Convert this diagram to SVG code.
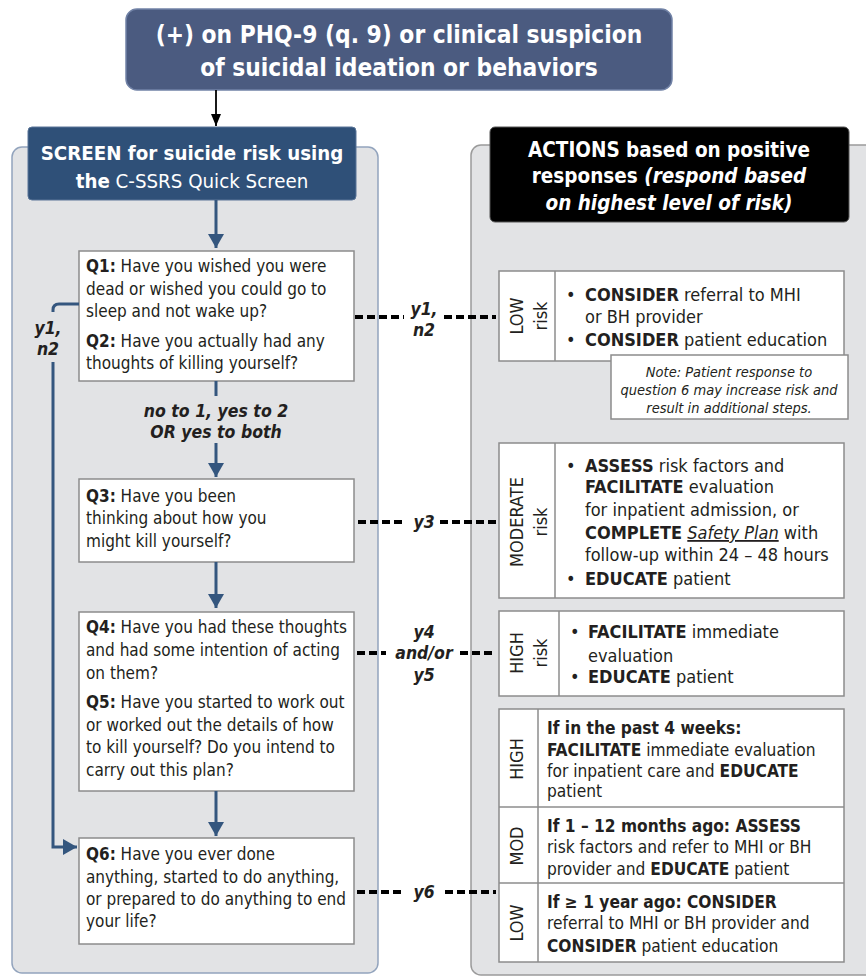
<svg xmlns="http://www.w3.org/2000/svg" width="866" height="976" viewBox="0 0 866 976">
<defs>
<style>
.t{font-family:'Liberation Sans Narrow','DejaVu Sans Condensed','Liberation Sans',sans-serif;fill:#231f20;}
.q{font-size:17px;}
.r{font-size:18px;}
.tb{font-size:17.2px;}
.b{font-weight:bold;}
.i{font-style:italic;}
.w{fill:#ffffff;}
.box{fill:#ffffff;stroke:#8c8c8c;stroke-width:1.5;}
.panelL{fill:#e2e3e5;stroke:#93a4bd;stroke-width:1.5;}
.panelR{fill:#e2e3e5;stroke:#9b9b9b;stroke-width:1.5;}
.arr{stroke:#34567e;stroke-width:3;fill:none;}
.dot{stroke:#000;stroke-width:4;stroke-dasharray:8 4;fill:none;}
.lbl{font-size:17.5px;font-weight:bold;font-style:italic;text-anchor:middle;}
.vt{font-size:18px;text-anchor:middle;}
.note{font-size:14.5px;font-style:italic;text-anchor:middle;}
</style>
<marker id="ab" viewBox="0 0 14 16" refX="14" refY="8" markerWidth="14" markerHeight="16" markerUnits="userSpaceOnUse" orient="auto"><path d="M0,0 L14,8 L0,16 z" fill="#34567e"/></marker>
<marker id="ak" viewBox="0 0 12 10" refX="12" refY="5" markerWidth="12" markerHeight="10" markerUnits="userSpaceOnUse" orient="auto"><path d="M0,0 L12,5 L0,10 z" fill="#000"/></marker>
</defs>
<rect width="866" height="976" fill="#ffffff"/>

<g id="panel-left"><rect class="panelL" x="12" y="147" width="366" height="826" rx="10"/></g>
<g id="panel-right"><rect class="panelR" x="471" y="145" width="410" height="830" rx="10"/></g>

<g id="top">
<rect x="126" y="9" width="546" height="81" rx="11" fill="#4b5b80" stroke="#7182a6" stroke-width="1.5"/>
<text class="t w b" x="399" y="43" font-size="24.3" text-anchor="middle">(+) on PHQ-9 (q. 9) or clinical suspicion</text>
<text class="t w b" x="399" y="76" font-size="24.3" text-anchor="middle">of suicidal ideation or behaviors</text>
</g>

<g id="screen-header">
<rect x="28" y="127" width="328" height="73" rx="4" fill="#2f5078" stroke="#5a7598" stroke-width="1"/>
<text class="t w b" x="192" y="160" font-size="20.3" text-anchor="middle">SCREEN for suicide risk using</text>
<text class="t w" x="192" y="188" font-size="20.3" text-anchor="middle"><tspan font-weight="bold">the</tspan> C-SSRS Quick Screen</text>
</g>

<g id="actions-header">
<rect x="490" y="127" width="359" height="95" rx="5" fill="#000000" stroke="#555" stroke-width="1"/>
<text class="t w b" x="669" y="157" font-size="20.5" text-anchor="middle">ACTIONS based on positive</text>
<text class="t w b" x="669" y="183" font-size="20.5" text-anchor="middle">responses <tspan font-style="italic">(respond based</tspan></text>
<text class="t w b i" x="669" y="210" font-size="20.5" text-anchor="middle">on highest level of risk)</text>
</g>

<g id="q1q2">
<rect class="box" x="79" y="251" width="275" height="130"/>
<text class="t q" x="86" y="272"><tspan font-weight="bold">Q1:</tspan> Have you wished you were</text>
<text class="t q" x="86" y="295">dead or wished you could go to</text>
<text class="t q" x="86" y="317">sleep and not wake up?</text>
<text class="t q" x="86" y="347"><tspan font-weight="bold">Q2:</tspan> Have you actually had any</text>
<text class="t q" x="86" y="369">thoughts of killing yourself?</text>
</g>

<g id="q3">
<rect class="box" x="79" y="479" width="275" height="83"/>
<text class="t q" x="86" y="502"><tspan font-weight="bold">Q3:</tspan> Have you been</text>
<text class="t q" x="86" y="524">thinking about how you</text>
<text class="t q" x="86" y="547">might kill yourself?</text>
</g>

<g id="q4q5">
<rect class="box" x="79" y="612" width="275" height="179"/>
<text class="t q" x="86" y="633"><tspan font-weight="bold">Q4:</tspan> Have you had these thoughts</text>
<text class="t q" x="86" y="656">and had some intention of acting</text>
<text class="t q" x="86" y="679">on them?</text>
<text class="t q" x="86" y="708"><tspan font-weight="bold">Q5:</tspan> Have you started to work out</text>
<text class="t q" x="86" y="731">or worked out the details of how</text>
<text class="t q" x="86" y="753">to kill yourself? Do you intend to</text>
<text class="t q" x="86" y="776">carry out this plan?</text>
</g>

<g id="q6">
<rect class="box" x="79" y="838" width="275" height="106"/>
<text class="t q" x="86" y="860"><tspan font-weight="bold">Q6:</tspan> Have you ever done</text>
<text class="t q" x="86" y="883">anything, started to do anything,</text>
<text class="t q" x="86" y="905">or prepared to do anything to end</text>
<text class="t q" x="86" y="927">your life?</text>
</g>

<g id="low-risk">
<rect class="box" x="499" y="271" width="345" height="90"/>
<line x1="555" y1="271" x2="555" y2="361" stroke="#8c8c8c" stroke-width="1.5"/>
<text class="t vt" transform="translate(523,316) rotate(-90)">LOW</text>
<text class="t vt" transform="translate(547,316) rotate(-90)">risk</text>
<text class="t r" x="566" y="301">•</text>
<text class="t r" x="585" y="301"><tspan font-weight="bold">CONSIDER</tspan> referral to MHI</text>
<text class="t r" x="585" y="323">or BH provider</text>
<text class="t r" x="566" y="346">•</text>
<text class="t r" x="585" y="346"><tspan font-weight="bold">CONSIDER</tspan> patient education</text>
</g>

<g id="note">
<rect class="box" x="611" y="355" width="237" height="64"/>
<text class="t note" x="729" y="377">Note: Patient response to</text>
<text class="t note" x="729" y="395">question 6 may increase risk and</text>
<text class="t note" x="729" y="413">result in additional steps.</text>
</g>

<g id="moderate-risk">
<rect class="box" x="499" y="443" width="345" height="155"/>
<line x1="555" y1="443" x2="555" y2="598" stroke="#8c8c8c" stroke-width="1.5"/>
<text class="t vt" transform="translate(523,522) rotate(-90)">MODERATE</text>
<text class="t vt" transform="translate(547,522) rotate(-90)">risk</text>
<text class="t r" x="566" y="472">•</text>
<text class="t r" x="585" y="472"><tspan font-weight="bold">ASSESS</tspan> risk factors and</text>
<text class="t r" x="585" y="493"><tspan font-weight="bold">FACILITATE</tspan> evaluation</text>
<text class="t r" x="585" y="516">for inpatient admission, or</text>
<text class="t r" x="585" y="539"><tspan font-weight="bold">COMPLETE</tspan> <tspan font-style="italic" text-decoration="underline">Safety Plan</tspan> with</text>
<text class="t r" x="585" y="561">follow-up within 24 – 48 hours</text>
<text class="t r" x="566" y="585">•</text>
<text class="t r" x="585" y="585"><tspan font-weight="bold">EDUCATE</tspan> patient</text>
</g>

<g id="high-risk">
<rect class="box" x="499" y="611" width="345" height="85"/>
<line x1="559" y1="611" x2="559" y2="696" stroke="#8c8c8c" stroke-width="1.5"/>
<text class="t vt" transform="translate(523,653) rotate(-90)">HIGH</text>
<text class="t vt" transform="translate(547,653) rotate(-90)">risk</text>
<text class="t r" x="570" y="638">•</text>
<text class="t r" x="588" y="638"><tspan font-weight="bold">FACILITATE</tspan> immediate</text>
<text class="t r" x="588" y="662">evaluation</text>
<text class="t r" x="570" y="683">•</text>
<text class="t r" x="588" y="683"><tspan font-weight="bold">EDUCATE</tspan> patient</text>
</g>

<g id="q6-table">
<rect class="box" x="499" y="709" width="345" height="253"/>
<line x1="538" y1="709" x2="538" y2="962" stroke="#8c8c8c" stroke-width="1.5"/>
<line x1="499" y1="807" x2="844" y2="807" stroke="#8c8c8c" stroke-width="1.5"/>
<line x1="499" y1="883" x2="844" y2="883" stroke="#8c8c8c" stroke-width="1.5"/>
<text class="t vt" transform="translate(523,759) rotate(-90)">HIGH</text>
<text class="t tb b" x="547" y="734">If in the past 4 weeks:</text>
<text class="t tb" x="547" y="756"><tspan font-weight="bold">FACILITATE</tspan> immediate evaluation</text>
<text class="t tb" x="547" y="777">for inpatient care and <tspan font-weight="bold">EDUCATE</tspan></text>
<text class="t tb" x="547" y="797">patient</text>
<text class="t vt" transform="translate(523,846) rotate(-90)">MOD</text>
<text class="t tb b" x="547" y="832">If 1 – 12 months ago: ASSESS</text>
<text class="t tb" x="547" y="853">risk factors and refer to MHI or BH</text>
<text class="t tb" x="547" y="875">provider and <tspan font-weight="bold">EDUCATE</tspan> patient</text>
<text class="t vt" transform="translate(523,923) rotate(-90)">LOW</text>
<text class="t tb b" x="547" y="908">If ≥ 1 year ago: CONSIDER</text>
<text class="t tb" x="547" y="929">referral to MHI or BH provider and</text>
<text class="t tb" x="547" y="952"><tspan font-weight="bold">CONSIDER</tspan> patient education</text>
</g>

<g id="connectors">
<line x1="216" y1="90" x2="216" y2="126" stroke="#000" stroke-width="1.8" marker-end="url(#ak)"/>
<line class="arr" x1="216" y1="200" x2="216" y2="248" marker-end="url(#ab)"/>
<line class="arr" x1="216" y1="381" x2="216" y2="396"/>
<line class="arr" x1="216" y1="443" x2="216" y2="477" marker-end="url(#ab)"/>
<text class="t lbl" x="216" y="417">no to 1, yes to 2</text>
<text class="t lbl" x="216" y="438">OR yes to both</text>
<line class="arr" x1="216" y1="562" x2="216" y2="608" marker-end="url(#ab)"/>
<line class="arr" x1="216" y1="791" x2="216" y2="836" marker-end="url(#ab)"/>
<path class="arr" d="M79,304 L59,304 Q53,304 53,310 L53,312"/>
<path class="arr" d="M53,362 L53,847 L77,847" marker-end="url(#ab)"/>
<text class="t lbl" x="48" y="334">y1,</text>
<text class="t lbl" x="48" y="355">n2</text>

<line class="dot" x1="355" y1="317" x2="404" y2="317"/>
<line class="dot" x1="444" y1="317" x2="496" y2="317"/>
<text class="t lbl" x="424" y="315">y1,</text>
<text class="t lbl" x="424" y="336">n2</text>

<line class="dot" x1="358" y1="522" x2="406" y2="522"/>
<line class="dot" x1="440" y1="522" x2="496" y2="522"/>
<text class="t lbl" x="424" y="528">y3</text>

<line class="dot" x1="357" y1="653" x2="386" y2="653"/>
<line class="dot" x1="460" y1="653" x2="496" y2="653"/>
<text class="t lbl" x="424" y="638">y4</text>
<text class="t lbl" x="424" y="659">and/or</text>
<text class="t lbl" x="424" y="681">y5</text>

<line class="dot" x1="357" y1="892" x2="405" y2="892"/>
<line class="dot" x1="445" y1="892" x2="496" y2="892"/>
<text class="t lbl" x="424" y="898">y6</text>
</g>
</svg>
